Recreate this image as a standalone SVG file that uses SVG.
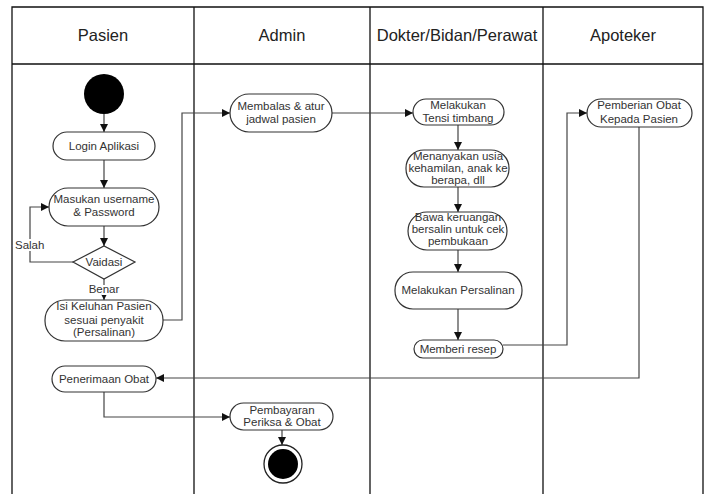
<svg xmlns="http://www.w3.org/2000/svg" width="709" height="494" viewBox="0 0 709 494">
<style>
.lane{stroke:#111;stroke-width:1.3;fill:none}
.hd{font-family:"Liberation Sans",Arial,sans-serif;font-size:16.5px;fill:#222;text-anchor:middle}
.nd{fill:#fff;stroke:#333;stroke-width:1.2}
.tx{font-family:"Liberation Sans",Arial,sans-serif;font-size:11.5px;fill:#333;text-anchor:middle}
.lb{font-family:"Liberation Sans",Arial,sans-serif;font-size:11.5px;fill:#333;stroke:#fff;stroke-width:4;paint-order:stroke}
.cn{fill:none;stroke:#444;stroke-width:1.2}
</style>
<defs>
<marker id="ah" viewBox="0 0 10 10" refX="10" refY="5" markerWidth="8" markerHeight="8" markerUnits="userSpaceOnUse" orient="auto">
<path d="M0,0 L10,5 L0,10 Z" fill="#111"/>
</marker>
</defs>
<rect width="709" height="494" fill="#fff"/>
<g id="lanes">
<path class="lane" d="M12 494 V7 H703 V494 M12 64 H703 M194 7 V494 M370 7 V494 M543 7 V494"/>
<text class="hd" x="103" y="41">Pasien</text>
<text class="hd" x="282" y="41">Admin</text>
<text class="hd" x="457" y="41">Dokter/Bidan/Perawat</text>
<text class="hd" x="623" y="41">Apoteker</text>
</g>
<g id="connectors">
<path class="cn" d="M104 114 V132" marker-end="url(#ah)"/>
<path class="cn" d="M104 160 V188" marker-end="url(#ah)"/>
<path class="cn" d="M104 226 V246" marker-end="url(#ah)"/>
<path class="cn" d="M73 262 H30 V207 H49" marker-end="url(#ah)"/>
<path class="cn" d="M104 279 V300" marker-end="url(#ah)"/>
<path class="cn" d="M163 320 H182 V113 H230" marker-end="url(#ah)"/>
<path class="cn" d="M332 113 H413" marker-end="url(#ah)"/>
<path class="cn" d="M458 125 V150" marker-end="url(#ah)"/>
<path class="cn" d="M458 187 V212" marker-end="url(#ah)"/>
<path class="cn" d="M458 250 V272" marker-end="url(#ah)"/>
<path class="cn" d="M458 309 V340" marker-end="url(#ah)"/>
<path class="cn" d="M503 345 H567 V113 H587" marker-end="url(#ah)"/>
<path class="cn" d="M639 127 V378 H156" marker-end="url(#ah)"/>
<path class="cn" d="M104 392 V417 H230" marker-end="url(#ah)"/>
<path class="cn" d="M282 430 V445" marker-end="url(#ah)"/>
<text class="lb" x="15" y="249">Salah</text>
<text class="lb" x="104" y="293" text-anchor="middle">Benar</text>
</g>
<g id="start"><circle cx="104" cy="94" r="20" fill="#000"/></g>
<g id="login"><rect class="nd" x="53" y="132" width="102" height="28" rx="14"/><text class="tx" x="104" y="150">Login Aplikasi</text></g>
<g id="masukan"><rect class="nd" x="49" y="188" width="110" height="38" rx="19"/><text class="tx" x="104" y="203">Masukan username</text><text class="tx" x="104" y="216">&amp; Password</text></g>
<g id="validasi"><path class="nd" d="M73 262 L104 246 L135 262 L104 279 Z"/><text class="tx" x="104" y="266">Vaidasi</text></g>
<g id="isi"><rect class="nd" x="45" y="300" width="118" height="41" rx="20"/><text class="tx" x="104" y="310">Isi Keluhan Pasien</text><text class="tx" x="104" y="324">sesuai penyakit</text><text class="tx" x="104" y="336">(Persalinan)</text></g>
<g id="membalas"><rect class="nd" x="230" y="94" width="102" height="38" rx="19"/><text class="tx" x="281" y="110">Membalas &amp; atur</text><text class="tx" x="281" y="123">jadwal pasien</text></g>
<g id="tensi"><rect class="nd" x="413" y="99" width="91" height="26" rx="13"/><text class="tx" x="458" y="109">Melakukan</text><text class="tx" x="458" y="122">Tensi timbang</text></g>
<g id="menanyakan"><rect class="nd" x="406" y="150" width="103" height="37" rx="18"/><text class="tx" x="458" y="160">Menanyakan usia</text><text class="tx" x="458" y="172">kehamilan, anak ke</text><text class="tx" x="458" y="184">berapa, dll</text></g>
<g id="bawa"><rect class="nd" x="408" y="212" width="99" height="38" rx="19"/><text class="tx" x="458" y="221">Bawa keruangan</text><text class="tx" x="458" y="233">bersalin untuk cek</text><text class="tx" x="458" y="245">pembukaan</text></g>
<g id="persalinan"><rect class="nd" x="395" y="272" width="127" height="37" rx="18"/><text class="tx" x="458" y="294">Melakukan Persalinan</text></g>
<g id="resep"><rect class="nd" x="414" y="340" width="89" height="18" rx="9"/><text class="tx" x="458" y="353">Memberi resep</text></g>
<g id="pemberian"><rect class="nd" x="587" y="99" width="105" height="28" rx="14"/><text class="tx" x="639" y="109">Pemberian Obat</text><text class="tx" x="639" y="123">Kepada Pasien</text></g>
<g id="penerimaan"><rect class="nd" x="52" y="366" width="104" height="26" rx="13"/><text class="tx" x="104" y="383">Penerimaan Obat</text></g>
<g id="pembayaran"><rect class="nd" x="230" y="403" width="103" height="27" rx="13.5"/><text class="tx" x="282" y="414">Pembayaran</text><text class="tx" x="282" y="426">Periksa &amp; Obat</text></g>
<g id="end"><circle cx="283" cy="464" r="19" fill="#fff" stroke="#222" stroke-width="1.3"/><circle cx="283" cy="464" r="15" fill="#000"/></g>
</svg>
